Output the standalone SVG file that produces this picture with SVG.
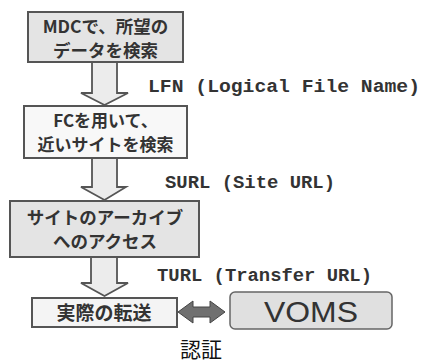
<svg xmlns="http://www.w3.org/2000/svg" width="422" height="363" viewBox="0 0 422 363">
<style>
.box{stroke:#555;stroke-width:2}
.jp{font-family:"Noto Sans CJK JP","Liberation Sans",sans-serif;font-size:17.5px;font-weight:bold;fill:#333;text-anchor:middle}
.lbl{font-family:"Liberation Mono",monospace;font-size:18px;font-weight:bold;fill:#333}
.down{fill:#ececec;stroke:#555;stroke-width:1.8;stroke-linejoin:miter}
</style>
<rect width="422" height="363" fill="#fff"/>
<g id="n1"><rect class="box" x="28" y="12" width="155" height="50" fill="#e4e4e4"/>
<text class="jp"><tspan x="105.5" y="33">MDCで、所望の</tspan><tspan x="105.5" y="57">データを検索</tspan></text></g>
<g id="n2"><rect class="box" x="24" y="106" width="163" height="52" fill="#f8f8f8"/>
<text class="jp" style="font-size:17px"><tspan x="105.5" y="127">FCを用いて、</tspan><tspan x="105.5" y="151">近いサイトを検索</tspan></text></g>
<g id="n3"><rect class="box" x="10" y="201" width="189" height="56" fill="#e4e4e4"/>
<text class="jp"><tspan x="105" y="224">サイトのアーカイブ</tspan><tspan x="105" y="248">へのアクセス</tspan></text></g>
<g id="n4"><rect class="box" x="32" y="298" width="145" height="29" fill="#f4f4f4"/>
<text class="jp" x="104" y="320" style="font-size:19px">実際の転送</text></g>
<g id="voms"><rect x="230" y="292" width="162" height="37" rx="5" fill="#e0e0e0" stroke="#666" stroke-width="1.5"/>
<text x="311" y="322" font-family="Liberation Sans,Arial,sans-serif" font-size="29" fill="#333" text-anchor="middle" textLength="94" lengthAdjust="spacingAndGlyphs">VOMS</text></g>
<g id="connectors">
<path class="down" d="M92,62 H117 V93 H128 L104.5,105 L81,93 H92 Z"/>
<path class="down" d="M92,158 H117 V187 H126 L104.5,200 L81,187 H92 Z"/>
<path class="down" d="M91,257 H117 V283 H128 L104.5,296 L81,283 H91 Z"/>
<path d="M178,312 L193,301 V307 H210 V301 L225,312 L210,323 V317 H193 V323 Z" fill="#707070" stroke="#444" stroke-width="1"/>
</g>
<g id="labels">
<text class="lbl" x="148" y="92" textLength="272" lengthAdjust="spacingAndGlyphs">LFN (Logical File Name)</text>
<text class="lbl" x="165" y="188" textLength="170" lengthAdjust="spacingAndGlyphs">SURL (Site URL)</text>
<text class="lbl" x="157" y="281" textLength="215" lengthAdjust="spacingAndGlyphs">TURL (Transfer URL)</text>
<text x="180" y="357" font-family="Noto Sans CJK JP,sans-serif" font-size="21" fill="#111">認証</text>
</g>
</svg>
